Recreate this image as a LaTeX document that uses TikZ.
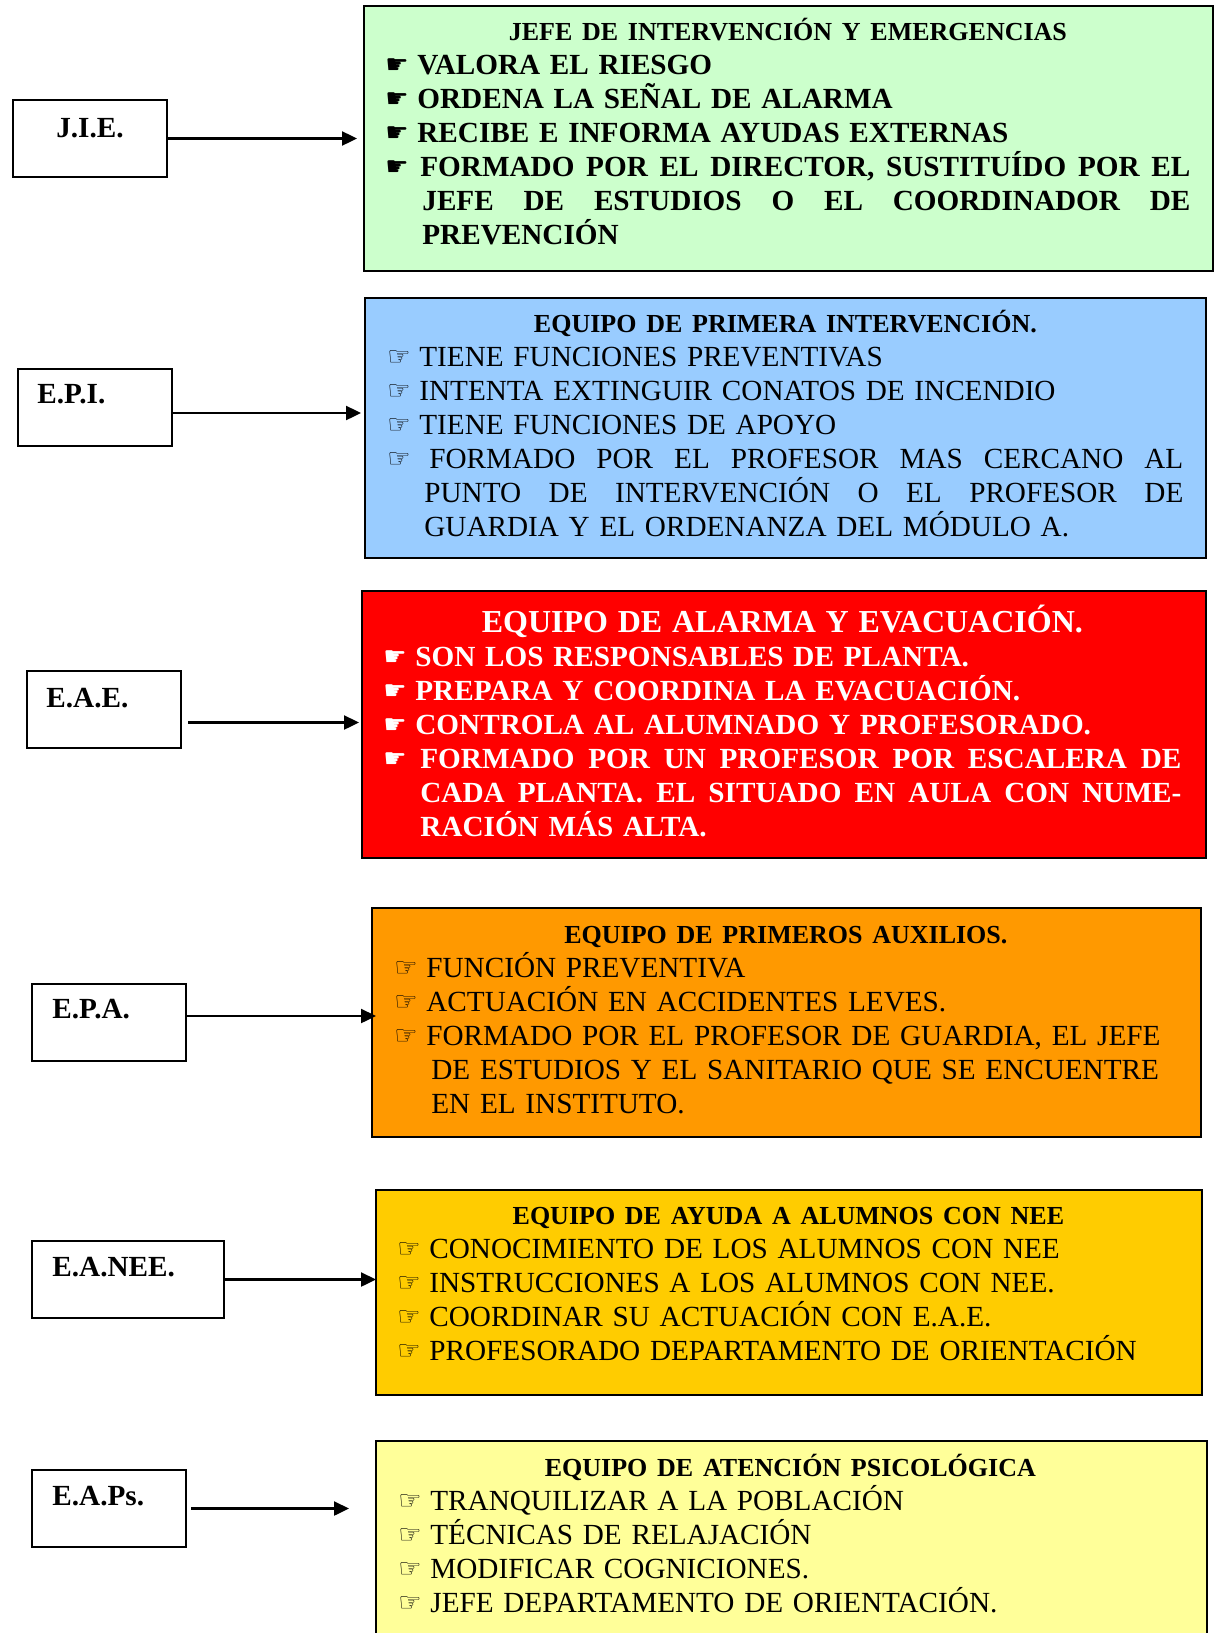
\documentclass[tikz,border=0pt]{standalone}
\usepackage{fontspec}
\setmainfont{Liberation Serif}
\newfontfamily\handfont{DejaVu Sans}
\usetikzlibrary{positioning, arrows.meta, calc}

\definecolor{jiecolor}{HTML}{CCFFCC}
\definecolor{epicolor}{HTML}{99CCFF}
\definecolor{eaecolor}{HTML}{FF0000}
\definecolor{epacolor}{HTML}{FF9900}
\definecolor{eaneecolor}{HTML}{FFCC00}
\definecolor{eapscolor}{HTML}{FFFF99}

\newlength{\bulw}
\setlength{\bulw}{16pt}
\newlength{\contw}
\setlength{\contw}{18.5pt}
\newcommand{\handsym}{☞}
\newcommand{\hand}{\makebox[\bulw][l]{\handfont\fontsize{13}{13}\selectfont\raisebox{0.5pt}{\handsym}}}
\newcommand{\ttl}[2][13]{\makebox[\linewidth]{\fontsize{#1}{17}\selectfont\bfseries #2}}
\newcommand{\spread}[2]{\makebox[#1][s]{\spaceskip=\fontdimen2\font plus 1fil\relax #2}}
\newcommand{\itm}[1]{\hand#1}
\newcommand{\itmj}[2][0pt]{\hand\hspace*{#1}\spread{\dimexpr\linewidth-\bulw-#1\relax}{#2}}
\newcommand{\cnt}[1]{\hspace*{\contw}#1}
\newcommand{\cntj}[1]{\hspace*{\contw}\spread{\dimexpr\linewidth-\contw\relax}{#1}}

\tikzset{
    unit/.style = {draw, line width=1pt, fill=white, anchor=north west,
        minimum width=77pt, minimum height=38.5pt, inner sep=0pt},
    unitlabel/.style = {inner sep=0pt, font=\fontsize{14.6}{17}\selectfont\bfseries},
    team/.style = {draw, line width=1pt, anchor=north west, inner sep=0pt},
    teamtext/.style = {anchor=base west, inner sep=0pt, align=left,
        font=\fontsize{14.6}{17}\selectfont},
    boldteam/.style = {teamtext, font=\fontsize{14.6}{17}\selectfont\bfseries,
        execute at begin node={\renewcommand{\handsym}{☛}}},
    link/.style = {-{Triangle[length=7.5pt, width=7pt]}, line width=1.2pt},
}

\begin{document}
\begin{tikzpicture}[x=0.5pt, y=-0.5pt]
\useasboundingbox (0,0) rectangle (1214,1633);

% teams
\node[team, fill=jiecolor, minimum width=424.5pt, minimum height=132.5pt] (jieteam) at (363,5) {};
\node[team, fill=epicolor, minimum width=420.5pt, minimum height=130pt] (epiteam) at (364,297) {};
\node[team, fill=eaecolor, minimum width=422pt, minimum height=133.5pt] (eaeteam) at (361,590) {};
\node[team, fill=epacolor, minimum width=414.5pt, minimum height=114.5pt] (epateam) at (371,907) {};
\node[team, fill=eaneecolor, minimum width=413pt, minimum height=102.5pt] (eaneeteam) at (375,1189) {};
\node[team, fill=eapscolor, minimum width=415.5pt, minimum height=102.5pt] (eapsteam) at (375,1440) {};

% units
\node[unit] (jie) at (12,99) {};
\node[unit] (epi) at (17,368) {};
\node[unit] (eae) at (26,670) {};
\node[unit] (epa) at (31,983) {};
\node[unit, minimum width=96pt] (eanee) at (31,1240) {};
\node[unit] (eaps) at (31,1469) {};

\node[unitlabel, anchor=base] (jielbl) at ([yshift=-19pt]jie.north) {J.I.E.};
\node[unitlabel, anchor=base west] (epilbl) at ([shift={(10pt,-17.5pt)}]epi.north west) {E.P.I.};
\node[unitlabel, anchor=base west] (eaelbl) at ([shift={(10pt,-18.5pt)}]eae.north west) {E.A.E.};
\node[unitlabel, anchor=base west] (epalbl) at ([shift={(10.5pt,-17.5pt)}]epa.north west) {E.P.A.};
\node[unitlabel, anchor=base west] (eaneelbl) at ([shift={(10.5pt,-18pt)}]eanee.north west) {E.A.NEE.};
\node[unitlabel, anchor=base west] (eapslbl) at ([shift={(10.5pt,-18pt)}]eaps.north west) {E.A.Ps.};

% texts
\node[boldteam, text width=402.5pt] (jietext) at (385,40) {%
    \ttl{JEFE DE INTERVENCIÓN Y EMERGENCIAS}\\
    \itm{VALORA EL RIESGO}\\
    \itm{ORDENA LA SEÑAL DE ALARMA}\\
    \itm{RECIBE E INFORMA AYUDAS EXTERNAS}\\
    \itmj[1.5pt]{FORMADO POR EL DIRECTOR, SUSTITUÍDO POR EL}\\
    \cntj{JEFE DE ESTUDIOS O EL COORDINADOR DE}\\
    \cnt{PREVENCIÓN}};
\node[teamtext, text width=398pt] (epitext) at (387,332) {%
    \ttl{EQUIPO DE PRIMERA INTERVENCIÓN.}\\
    \itm{TIENE FUNCIONES PREVENTIVAS}\\
    \itm{INTENTA EXTINGUIR CONATOS DE INCENDIO}\\
    \itm{TIENE FUNCIONES DE APOYO}\\
    \itmj[5pt]{FORMADO POR EL PROFESOR MAS CERCANO AL}\\
    \cntj{PUNTO DE INTERVENCIÓN O EL PROFESOR DE}\\
    \cnt{GUARDIA Y EL ORDENANZA DEL MÓDULO A.}};
\node[boldteam, text=white, text width=399pt] (eaetext) at (383,632) {%
    \ttl[16]{EQUIPO DE ALARMA Y EVACUACIÓN.}\\
    \itm{SON LOS RESPONSABLES DE PLANTA.}\\
    \itm{PREPARA Y COORDINA LA EVACUACIÓN.}\\
    \itm{CONTROLA AL ALUMNADO Y PROFESORADO.}\\
    \itmj[2.5pt]{FORMADO POR UN PROFESOR POR ESCALERA DE}\\
    \cntj{CADA PLANTA. EL SITUADO EN AULA CON NUME-}\\
    \cnt{RACIÓN MÁS ALTA.}};
\node[teamtext, text width=391.5pt] (epatext) at (394,943) {%
    \ttl{EQUIPO DE PRIMEROS AUXILIOS.}\\
    \itm{FUNCIÓN PREVENTIVA}\\
    \itm{ACTUACIÓN EN ACCIDENTES LEVES.}\\
    \itm{FORMADO POR EL PROFESOR DE GUARDIA, EL JEFE}\\
    \cnt{DE ESTUDIOS Y EL SANITARIO QUE SE ENCUENTRE}\\
    \cnt{EN EL INSTITUTO.}};
\node[teamtext, text width=391pt] (eaneetext) at (397,1224) {%
    \ttl{EQUIPO DE AYUDA A ALUMNOS CON NEE}\\
    \itm{CONOCIMIENTO DE LOS ALUMNOS CON NEE}\\
    \itm{INSTRUCCIONES A LOS ALUMNOS CON NEE.}\\
    \itm{COORDINAR SU ACTUACIÓN CON E.A.E.}\\
    \itm{PROFESORADO DEPARTAMENTO DE ORIENTACIÓN}};
\node[teamtext, text width=392pt] (eapstext) at (398,1476) {%
    \ttl{EQUIPO DE ATENCIÓN PSICOLÓGICA}\\
    \itm{TRANQUILIZAR A LA POBLACIÓN}\\
    \itm{TÉCNICAS DE RELAJACIÓN}\\
    \itm{MODIFICAR COGNICIONES.}\\
    \itm{JEFE DEPARTAMENTO DE ORIENTACIÓN.}};

% arrows
\draw[link] (jie.east) -- ($(jie.east -| jieteam.west)+(-3pt,0)$);
\draw[link] ([yshift=-2.75pt]epi.east) -- ($(epi.east -| epiteam.west)+(-1.5pt,-2.75pt)$);
\draw[link] ($(eae.east)+(3pt,-6.5pt)$) -- ($(eae.east -| eaeteam.west)+(-1pt,-6.5pt)$);
\draw[link] ([yshift=3.25pt]epa.east) -- ($(epa.east -| epateam.west)+(2.5pt,3.25pt)$);
\draw[link] (eanee.east) -- ($(eanee.east -| eaneeteam.west)+(0.5pt,0)$);
\draw[link] ($(eaps.east)+(2pt,0)$) -- ($(eaps.east -| eapsteam.west)+(-13pt,0)$);
\end{tikzpicture}
\end{document}
